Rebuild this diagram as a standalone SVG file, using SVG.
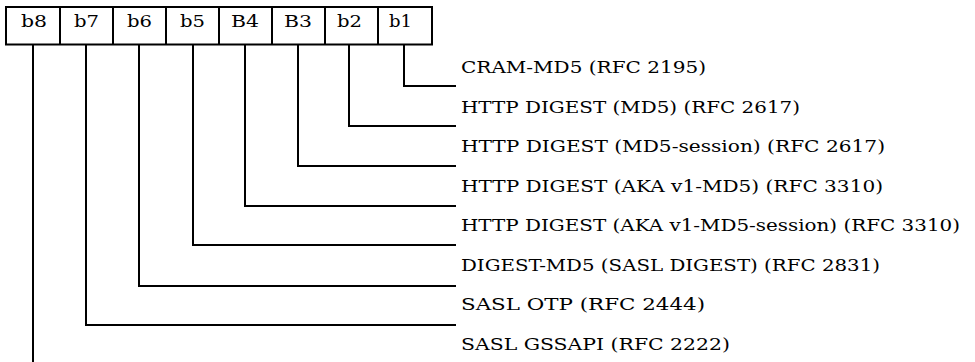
<svg xmlns="http://www.w3.org/2000/svg" width="975" height="362" viewBox="0 0 975 362">
<style>
.box{fill:#fff;stroke:#000;stroke-width:2}
.div{stroke:#000;stroke-width:2}
.lbl{font-family:"DejaVu Serif",serif;font-size:17.5px;fill:#000}
.txt{font-family:"DejaVu Serif",serif;font-size:17px;fill:#000}
.con{fill:none;stroke:#000;stroke-width:2}
</style>
<rect width="975" height="362" fill="#fff"/>
<g id="register">
<rect class="box" x="6" y="7" width="426" height="37.5"/>
<line class="div" x1="60" y1="7" x2="60" y2="44.5"/>
<line class="div" x1="113" y1="7" x2="113" y2="44.5"/>
<line class="div" x1="166" y1="7" x2="166" y2="44.5"/>
<line class="div" x1="219" y1="7" x2="219" y2="44.5"/>
<line class="div" x1="272" y1="7" x2="272" y2="44.5"/>
<line class="div" x1="325" y1="7" x2="325" y2="44.5"/>
<line class="div" x1="378" y1="7" x2="378" y2="44.5"/>
</g>
<g id="bit-b8"><text class="lbl" x="21" y="27" textLength="26" lengthAdjust="spacingAndGlyphs">b8</text></g>
<g id="bit-b7"><text class="lbl" x="74" y="27" textLength="25" lengthAdjust="spacingAndGlyphs">b7</text></g>
<g id="bit-b6"><text class="lbl" x="127" y="27" textLength="25" lengthAdjust="spacingAndGlyphs">b6</text></g>
<g id="bit-b5"><text class="lbl" x="180" y="27" textLength="25" lengthAdjust="spacingAndGlyphs">b5</text></g>
<g id="bit-B4"><text class="lbl" x="231" y="27" textLength="28" lengthAdjust="spacingAndGlyphs">B4</text></g>
<g id="bit-B3"><text class="lbl" x="284" y="27" textLength="28" lengthAdjust="spacingAndGlyphs">B3</text></g>
<g id="bit-b2"><text class="lbl" x="337" y="27" textLength="25" lengthAdjust="spacingAndGlyphs">b2</text></g>
<g id="bit-b1"><text class="lbl" x="389" y="27" textLength="23" lengthAdjust="spacingAndGlyphs">b1</text></g>
<g id="connectors">
<path class="con" d="M404,44.5 V86 H456"/>
<path class="con" d="M349,44.5 V126 H456"/>
<path class="con" d="M298,44.5 V166 H456"/>
<path class="con" d="M245,44.5 V206 H456"/>
<path class="con" d="M193,44.5 V245 H456"/>
<path class="con" d="M139,44.5 V286 H456"/>
<path class="con" d="M86,44.5 V325 H456"/>
<path class="con" d="M33,44.5 V362"/>
</g>
<g id="label-b1"><text class="txt" x="461" y="73" textLength="245" lengthAdjust="spacingAndGlyphs">CRAM-MD5 (RFC 2195)</text></g>
<g id="label-b2"><text class="txt" x="461" y="112.5" textLength="339" lengthAdjust="spacingAndGlyphs">HTTP DIGEST (MD5) (RFC 2617)</text></g>
<g id="label-B3"><text class="txt" x="461" y="152" textLength="424" lengthAdjust="spacingAndGlyphs">HTTP DIGEST (MD5-session) (RFC 2617)</text></g>
<g id="label-B4"><text class="txt" x="461" y="191.5" textLength="422" lengthAdjust="spacingAndGlyphs">HTTP DIGEST (AKA v1-MD5) (RFC 3310)</text></g>
<g id="label-b5"><text class="txt" x="461" y="231" textLength="499" lengthAdjust="spacingAndGlyphs">HTTP DIGEST (AKA v1-MD5-session) (RFC 3310)</text></g>
<g id="label-b6"><text class="txt" x="461" y="270.5" textLength="419" lengthAdjust="spacingAndGlyphs">DIGEST-MD5 (SASL DIGEST) (RFC 2831)</text></g>
<g id="label-b7"><text class="txt" x="461" y="310" textLength="244" lengthAdjust="spacingAndGlyphs">SASL OTP (RFC 2444)</text></g>
<g id="label-b8"><text class="txt" x="461" y="349.5" textLength="269" lengthAdjust="spacingAndGlyphs">SASL GSSAPI (RFC 2222)</text></g>
</svg>
